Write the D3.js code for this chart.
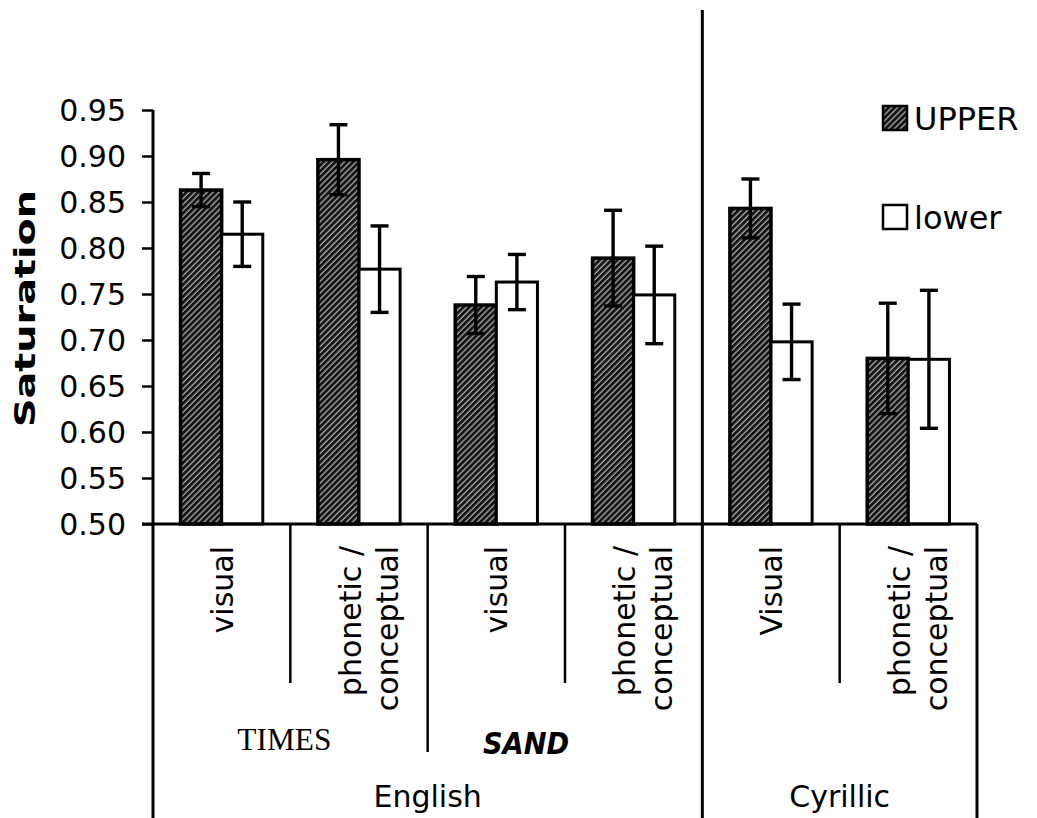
<!DOCTYPE html>
<html>
<head>
<meta charset="utf-8">
<script src="https://cdn.jsdelivr.net/npm/d3@7"></script>
<style>
  html, body { margin: 0; padding: 0; background: #fff; }
  svg { display: block; }
</style>
</head>
<body>
<svg id="chart" width="1037" height="818"></svg>
<script>
// Category labels (one entry per bar group, split into lines)
const categories = [
  ["visual"],
  ["phonetic /", "conceptual"],
  ["visual"],
  ["phonetic /", "conceptual"],
  ["Visual"],
  ["phonetic /", "conceptual"]
];
// Font groups (spanning category indices) and script groups
const fontGroups = [
  { name: "TIMES", from: 0, to: 1 },
  { name: "SAND",  from: 2, to: 3 }
];
const scriptGroups = [
  { name: "English",  from: 0, to: 3 },
  { name: "Cyrillic", from: 4, to: 5 }
];
const seriesNames = ["UPPER", "lower"];
const upperValues = [0.863, 0.896, 0.738, 0.789, 0.843, 0.680];
const upperErrors = [0.018, 0.038, 0.031, 0.052, 0.032, 0.060];
const lowerValues = [0.815, 0.777, 0.763, 0.749, 0.698, 0.679];
const lowerErrors = [0.035, 0.047, 0.030, 0.053, 0.041, 0.075];
const yTicks = [0.50, 0.55, 0.60, 0.65, 0.70, 0.75, 0.80, 0.85, 0.90, 0.95];

(function drawChart() {
  const svg = d3.select("#chart");
  const sans = "Verdana, 'DejaVu Sans', sans-serif";

  // hatched fill for the UPPER series
  const defs = svg.append("defs");
  const pat = defs.append("pattern")
    .attr("id", "hatch")
    .attr("patternUnits", "userSpaceOnUse")
    .attr("width", 4.2).attr("height", 4.2)
    .attr("patternTransform", "rotate(45)");
  pat.append("rect").attr("width", 4.2).attr("height", 4.2).attr("fill", "#151515");
  pat.append("line").attr("x1", 1).attr("y1", 0).attr("x2", 1).attr("y2", 4.2)
    .attr("stroke", "#c4c4c4").attr("stroke-width", 1.1);

  const plotLeft = 153, plotRight = 977, plotTop = 110, plotBase = 524;

  const x0 = d3.scaleBand().domain(d3.range(categories.length)).range([plotLeft, plotRight]).padding(0);
  const x1 = d3.scaleBand().domain(seriesNames).range([0, x0.bandwidth()]).paddingInner(0).paddingOuter(0.67);
  const y = d3.scaleLinear().domain([0.5, 0.95]).range([plotBase, plotTop]);

  const series = [
    { name: "UPPER", values: upperValues, errors: upperErrors, fill: "url(#hatch)", sw: 3.5 },
    { name: "lower", values: lowerValues, errors: lowerErrors, fill: "#fff", sw: 3 }
  ];

  // y axis
  const yAxis = d3.axisLeft(y)
    .tickValues(yTicks)
    .tickFormat(d3.format(".2f"))
    .tickSize(11)
    .tickPadding(16);
  const gy = svg.append("g").attr("transform", `translate(${plotLeft},0)`).call(yAxis);
  gy.select(".domain").remove();
  gy.selectAll(".tick line").attr("stroke", "#000").attr("stroke-width", 2.5);
  gy.selectAll(".tick text")
    .attr("font-family", sans).attr("font-size", 30).attr("fill", "#000")
    .attr("dy", "0.36em");

  // axis title
  svg.append("text")
    .attr("transform", `translate(35,${(190 + 427) / 2}) rotate(-90)`)
    .attr("text-anchor", "middle")
    .attr("font-family", sans).attr("font-weight", "bold").attr("font-size", 29)
    .attr("textLength", 237).attr("lengthAdjust", "spacingAndGlyphs")
    .text("Saturation");

  // bars
  series.forEach(s => {
    svg.append("g").selectAll("rect")
      .data(s.values)
      .join("rect")
      .attr("x", (d, i) => x0(i) + x1(s.name))
      .attr("y", d => y(d))
      .attr("width", x1.bandwidth())
      .attr("height", d => y(0.5) - y(d))
      .attr("fill", s.fill)
      .attr("stroke", "#000")
      .attr("stroke-width", s.sw);
  });

  // error bars
  const capW = 18;
  series.forEach(s => {
    const g = svg.append("g").attr("stroke", "#000").attr("stroke-width", 3.4).attr("fill", "none");
    s.values.forEach((v, i) => {
      const cx = x0(i) + x1(s.name) + x1.bandwidth() / 2;
      const yHi = y(v + s.errors[i]);
      const yLo = y(v - s.errors[i]);
      g.append("line").attr("x1", cx).attr("x2", cx).attr("y1", yHi).attr("y2", yLo);
      g.append("line").attr("x1", cx - capW / 2).attr("x2", cx + capW / 2).attr("y1", yHi).attr("y2", yHi);
      g.append("line").attr("x1", cx - capW / 2).attr("x2", cx + capW / 2).attr("y1", yLo).attr("y2", yLo);
    });
  });

  // axis lines
  const frame = svg.append("g").attr("stroke", "#000").attr("fill", "none");
  frame.append("line").attr("x1", plotLeft).attr("x2", plotLeft).attr("y1", plotTop).attr("y2", 818).attr("stroke-width", 3);
  frame.append("line").attr("x1", plotLeft - 11).attr("x2", plotRight).attr("y1", plotBase).attr("y2", plotBase).attr("stroke-width", 3);
  frame.append("line").attr("x1", plotRight).attr("x2", plotRight).attr("y1", plotBase).attr("y2", 818).attr("stroke-width", 3);

  // category separators below the baseline
  const fontEnds = new Set(fontGroups.map(g => g.to));
  const scriptEnds = new Set(scriptGroups.map(g => g.to));
  d3.range(categories.length - 1).forEach(i => {
    const xs = x0(i) + x0.bandwidth();
    let y2 = 683, yStart = plotBase, w = 2.5;
    if (scriptEnds.has(i)) { y2 = 818; yStart = 10; w = 3; }
    else if (fontEnds.has(i)) { y2 = 752; }
    frame.append("line").attr("x1", xs).attr("x2", xs).attr("y1", yStart).attr("y2", y2).attr("stroke-width", w);
  });

  // rotated category labels
  const lineOffsets = { 1: [11], 2: [1.5, 38.5] };
  const cats = svg.append("g").attr("font-family", sans).attr("font-size", 30).attr("fill", "#000");
  categories.forEach((lines, i) => {
    const cx = x0(i) + x0.bandwidth() / 2;
    const g = cats.append("g").attr("transform", `translate(${cx},546) rotate(-90)`);
    lines.forEach((ln, k) => {
      g.append("text")
        .attr("x", 0)
        .attr("y", lineOffsets[lines.length][k])
        .attr("text-anchor", "end")
        .text(ln);
    });
  });

  // font group labels
  const groupCenter = g => (x0(g.from) + x0(g.to) + x0.bandwidth()) / 2;
  svg.append("text")
    .attr("x", groupCenter(fontGroups[0]) - 6).attr("y", 750)
    .attr("text-anchor", "middle")
    .attr("font-family", "'Times New Roman', 'Liberation Serif', serif")
    .attr("font-size", 32)
    .attr("textLength", 94).attr("lengthAdjust", "spacingAndGlyphs")
    .text(fontGroups[0].name);
  svg.append("text")
    .attr("x", groupCenter(fontGroups[1]) - 39).attr("y", 754)
    .attr("text-anchor", "middle")
    .attr("font-family", "'DejaVu Sans Condensed', 'DejaVu Sans', sans-serif")
    .attr("font-weight", "bold").attr("font-style", "italic")
    .attr("font-size", 31)
    .attr("textLength", 86).attr("lengthAdjust", "spacingAndGlyphs")
    .text(fontGroups[1].name);

  // script group labels
  scriptGroups.forEach(g => {
    svg.append("text")
      .attr("x", groupCenter(g)).attr("y", 807)
      .attr("text-anchor", "middle")
      .attr("font-family", sans).attr("font-size", 30)
      .text(g.name);
  });

  // legend
  const legend = svg.append("g");
  const legendY = [106, 205];
  series.forEach((s, i) => {
    legend.append("rect")
      .attr("x", 883).attr("y", legendY[i])
      .attr("width", 24).attr("height", 24)
      .attr("fill", s.fill).attr("stroke", "#000").attr("stroke-width", 2.5);
    legend.append("text")
      .attr("x", 914).attr("y", legendY[i] + 24)
      .attr("font-family", sans).attr("font-size", 32)
      .text(s.name);
  });
})();
</script>
</body>
</html>
